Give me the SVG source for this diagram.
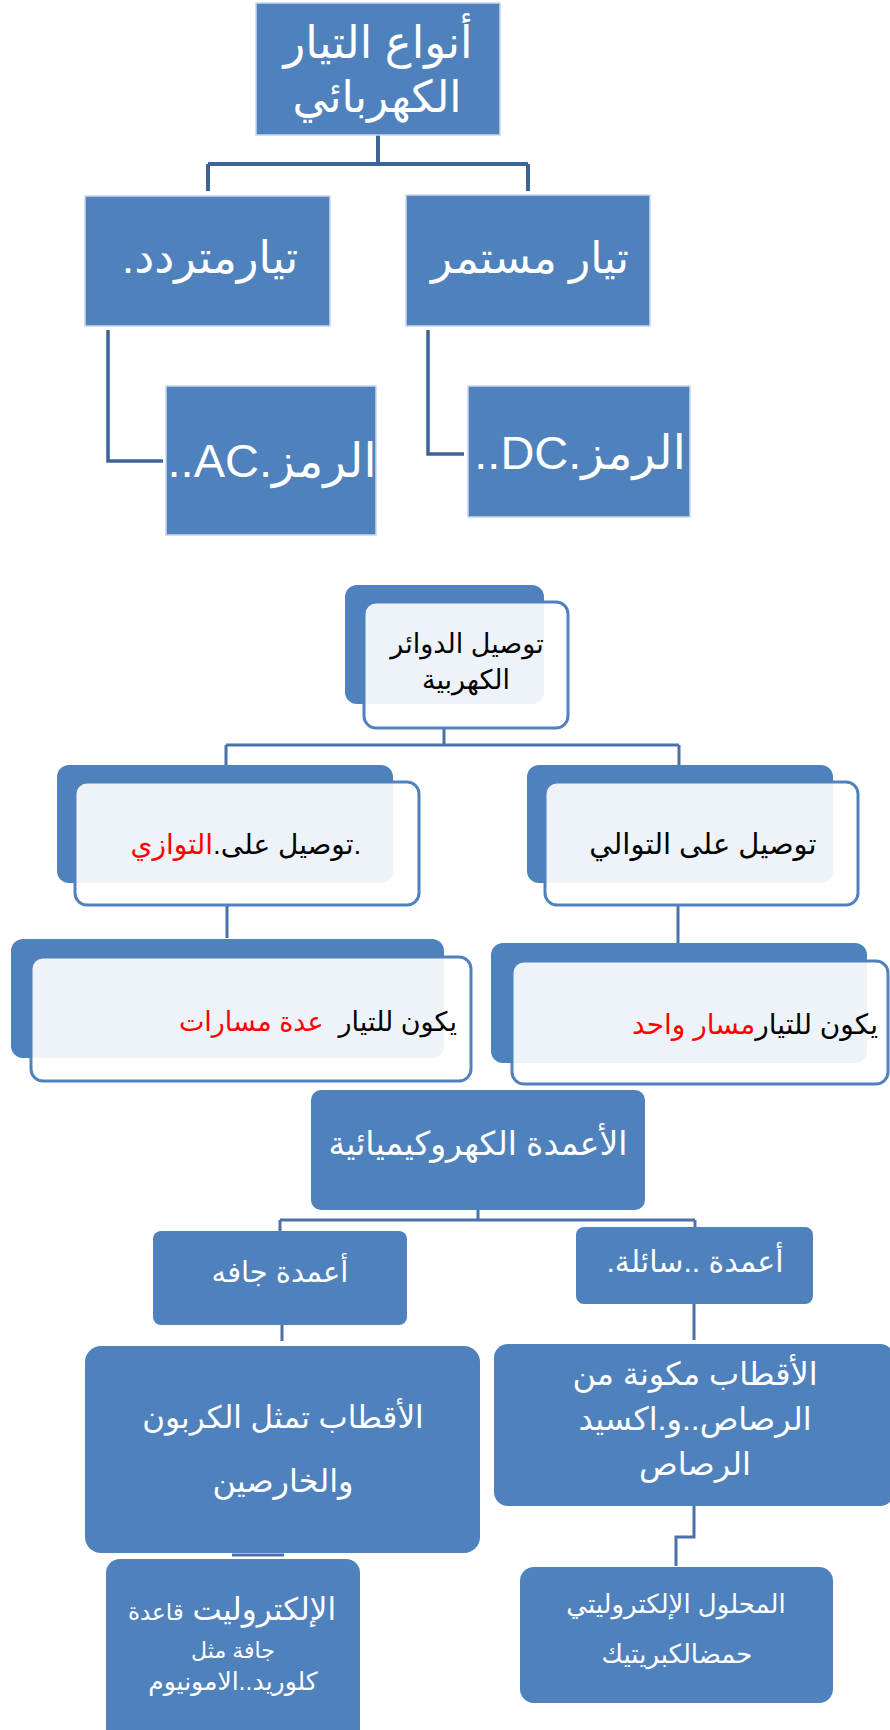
<svg xmlns="http://www.w3.org/2000/svg" width="890" height="1730" viewBox="0 0 890 1730">
<style>
.sq{fill:#4F81BD;stroke:#C9D8EC;stroke-width:1.5}
.rb{fill:#4F81BD}
.back{fill:#4F81BD}
.front{fill:#FFFFFF;fill-opacity:0.9;stroke:#4F81BD;stroke-width:3}
.wt{fill:#FFFFFF;font-family:"Liberation Sans","DejaVu Sans",sans-serif}
.bk{fill:#000000;font-family:"Liberation Sans","DejaVu Sans",sans-serif}
.red{fill:#FF0000}
.c1{fill:none;stroke:#3E6399;stroke-width:4}
.c2{fill:none;stroke:#4872A8;stroke-width:3}
</style>
<rect width="890" height="1730" fill="#FFFFFF"/>
<g id="connectors">
<path class="c1" d="M378 135V164M208 164H528M208 164V191M528 164V191"/>
<path class="c1" d="M108 330V461H163M428 330V454H464" style="stroke-width:3.5"/>
<path class="c2" d="M444 728V745M226 745H679M226 745V765M679 745V765"/>
<path class="c2" d="M227 905V938M678 905V943"/>
<path class="c2" d="M478 1210V1220M280 1220H695M280 1220V1231M695 1220V1227"/>
<path class="c2" d="M282 1325V1341M694 1304V1340"/>
<path class="c2" d="M232 1555H284M694 1506V1537H676V1566"/>
</g>
<g id="n1">
<rect class="sq" x="256" y="3" width="244" height="132"/>
<text class="wt" direction="rtl" font-size="45" text-anchor="middle" x="378" y="58">أنواع التيار</text>
<text class="wt" direction="rtl" font-size="44" text-anchor="middle" x="377" y="112">الكهربائي</text>
</g>
<g id="n2">
<rect class="sq" x="85" y="196" width="245" height="130"/>
<text class="wt" direction="rtl" font-size="45" text-anchor="middle" x="210" y="273">تيارمتردد.</text>
</g>
<g id="n3">
<rect class="sq" x="406" y="195" width="244" height="131"/>
<text class="wt" direction="rtl" font-size="44" text-anchor="middle" x="530" y="273">تيار مستمر</text>
</g>
<g id="n4">
<rect class="sq" x="166" y="386" width="210" height="149"/>
<text class="wt" direction="rtl" font-size="47" text-anchor="middle" x="272" y="477">الرمز.AC..</text>
</g>
<g id="n5">
<rect class="sq" x="468" y="386" width="222" height="131"/>
<text class="wt" direction="rtl" font-size="47" text-anchor="middle" x="580" y="469">الرمز.DC..</text>
</g>
<g id="n6">
<rect class="back" x="345" y="585" width="199" height="119" rx="12"/>
<rect class="front" x="364" y="602" width="204" height="126" rx="12"/>
<text class="bk" direction="rtl" font-size="27" text-anchor="middle" x="467" y="653">توصيل الدوائر</text>
<text class="bk" direction="rtl" font-size="27" text-anchor="middle" x="466" y="689">الكهربية</text>
</g>
<g id="n7">
<rect class="back" x="57" y="765" width="336" height="118" rx="12"/>
<rect class="front" x="75" y="782" width="344" height="123" rx="12"/>
<text class="bk" direction="rtl" font-size="28" text-anchor="middle" x="246" y="854">.توصيل على.<tspan class="red">التوازي</tspan></text>
</g>
<g id="n8">
<rect class="back" x="527" y="765" width="306" height="118" rx="12"/>
<rect class="front" x="545" y="782" width="313" height="123" rx="12"/>
<text class="bk" direction="rtl" font-size="29" text-anchor="middle" x="703" y="854">توصيل على التوالي</text>
</g>
<g id="n9">
<rect class="back" x="11" y="939" width="433" height="119" rx="12"/>
<rect class="front" x="31" y="957" width="440" height="124" rx="12"/>
<text class="bk" direction="rtl" font-size="27" text-anchor="start" x="457" y="1031" xml:space="preserve">يكون للتيار  <tspan class="red">عدة مسارات</tspan></text>
</g>
<g id="n10">
<rect class="back" x="491" y="943" width="376" height="120" rx="12"/>
<rect class="front" x="512" y="961" width="376" height="123" rx="12"/>
<text class="bk" direction="rtl" font-size="28" text-anchor="start" x="878" y="1034">يكون للتيار<tspan class="red">مسار واحد</tspan></text>
</g>
<g id="n11">
<rect class="rb" x="311" y="1090" width="334" height="120" rx="10"/>
<text class="wt" direction="rtl" font-size="33" text-anchor="middle" x="478" y="1155">الأعمدة الكهروكيميائية</text>
</g>
<g id="n12">
<rect class="rb" x="153" y="1231" width="254" height="94" rx="8"/>
<text class="wt" direction="rtl" font-size="29" text-anchor="middle" x="280" y="1282">أعمدة جافه</text>
</g>
<g id="n13">
<rect class="rb" x="576" y="1227" width="237" height="77" rx="8"/>
<text class="wt" direction="rtl" font-size="30" text-anchor="middle" x="695" y="1272">أعمدة ..سائلة.</text>
</g>
<g id="n14">
<rect class="rb" x="85" y="1346" width="395" height="207" rx="16"/>
<text class="wt" direction="rtl" font-size="31" text-anchor="middle" x="283" y="1428">الأقطاب تمثل الكربون</text>
<text class="wt" direction="rtl" font-size="32" text-anchor="middle" x="283" y="1492">والخارصين</text>
</g>
<g id="n15">
<rect class="rb" x="494" y="1344" width="400" height="162" rx="14"/>
<text class="wt" direction="rtl" font-size="32" text-anchor="middle" x="695" y="1385">الأقطاب مكونة من</text>
<text class="wt" direction="rtl" font-size="32" text-anchor="middle" x="695" y="1430">الرصاص..و.اكسيد</text>
<text class="wt" direction="rtl" font-size="32" text-anchor="middle" x="695" y="1475">الرصاص</text>
</g>
<g id="n16">
<rect class="rb" x="106" y="1559" width="254" height="185" rx="14"/>
<text class="wt" direction="rtl" font-size="31" text-anchor="middle" x="232" y="1620">الإلكتروليت <tspan font-size="23">قاعدة</tspan></text>
<text class="wt" direction="rtl" font-size="22" text-anchor="middle" x="233" y="1658">جافة مثل</text>
<text class="wt" direction="rtl" font-size="25" text-anchor="middle" x="233" y="1690">كلوريد..الامونيوم</text>
</g>
<g id="n17">
<rect class="rb" x="520" y="1567" width="313" height="136" rx="14"/>
<text class="wt" direction="rtl" font-size="26" text-anchor="middle" x="676" y="1613">المحلول الإلكتروليتي</text>
<text class="wt" direction="rtl" font-size="26" text-anchor="middle" x="677" y="1663">حمضالكبريتيك</text>
</g>
</svg>
